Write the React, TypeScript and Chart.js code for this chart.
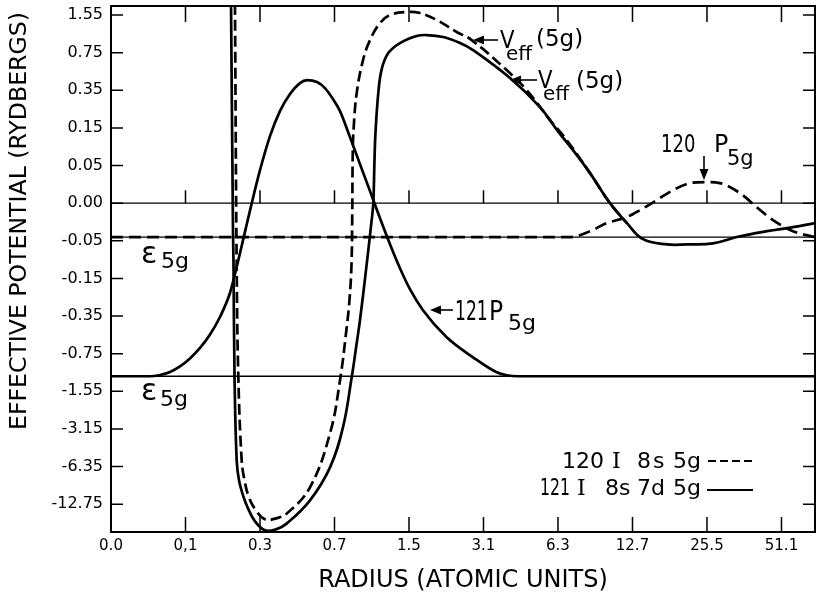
import React, { useEffect, useRef } from 'react';
import { Chart, registerables } from 'chart.js';

Chart.register(...registerables);

// Axis tick labels (ticks are evenly spaced: one axis step per label)
const xTickLabels = ['0.0', '0,1', '0.3', '0.7', '1.5', '3.1', '6.3', '12.7', '25.5', '51.1'];
// y steps -8 .. 5
const yTickLabels = ['-12.75', '-6.35', '-3.15', '-1.55', '-0.75', '-0.35', '-0.15', '-0.05', '0.00', '0.05', '0.15', '0.35', '0.75', '1.55'];
const yFirstStep = -8;

const xTitle = 'RADIUS (ATOMIC UNITS)';
const yTitle = 'EFFECTIVE POTENTIAL (RYDBERGS)';

// Axis extent in axis-step units
const xMin = 0;
const xMax = 9.45;
const yMin = -8.74;
const yMax = 5.24;

// Energy levels (baselines), in axis-step units
const zeroLevel = 0;
const eps120 = -0.904;
const eps121 = -4.601;

// V_eff(5g) for 121 (solid)
const vEff121X = [1.611, 1.638, 1.644, 1.658, 1.687, 1.718, 1.772, 1.839, 1.933, 2.067, 2.215, 2.362, 2.671, 2.94, 3.114, 3.231, 3.298, 3.342, 3.423, 3.499, 3.521, 3.537, 3.550, 3.588, 3.634, 3.722, 3.879, 4.103, 4.238, 4.46, 4.685, 4.859, 5.356, 5.758, 5.987, 6.201, 6.43, 6.698, 6.926, 7.141, 7.463, 7.732, 8.081, 8.443, 8.805, 9.154, 9.45];
const vEff121Y = [5.3, -0.824, -1.516, -4.601, -6.835, -7.367, -7.766, -8.112, -8.457, -8.697, -8.670, -8.511, -7.899, -7.021, -5.957, -4.628, -3.723, -3.112, -1.782, -0.452, 0.0, 1.144, 1.862, 2.926, 3.564, 3.989, 4.255, 4.441, 4.468, 4.415, 4.255, 4.069, 3.324, 2.553, 1.941, 1.41, 0.798, 0.0, -0.532, -0.957, -1.096, -1.096, -1.07, -0.88, -0.745, -0.638, -0.532];

// V_eff(5g) for 120 (dashed)
const vEff120X = [1.664, 1.687, 1.709, 1.754, 1.792, 1.852, 1.946, 2.067, 2.215, 2.362, 2.671, 2.94, 3.074, 3.164, 3.201, 3.228, 3.238, 3.245, 3.258, 3.298, 3.383, 3.477, 3.611, 3.745, 3.969, 4.148, 4.372, 4.64, 4.842, 5.311, 5.58, 5.893, 6.117, 6.43, 6.698, 6.926];
const vEff120Y = [5.3, -1.702, -4.601, -6.835, -7.367, -7.819, -8.165, -8.404, -8.378, -8.245, -7.553, -6.117, -4.707, -3.298, -2.58, -1.649, -0.372, 1.33, 2.021, 2.926, 3.803, 4.335, 4.787, 5.0, 5.08, 5.053, 4.867, 4.548, 4.335, 3.537, 3.005, 2.207, 1.676, 0.798, 0.0, -0.532];

// 121 P5g radial function (solid), drawn on the eps121 baseline
const p121X = [0, 0.523, 0.658, 0.792, 0.926, 1.060, 1.195, 1.329, 1.463, 1.597, 1.664, 1.732, 1.826, 1.919, 2.0, 2.134, 2.268, 2.403, 2.537, 2.631, 2.765, 2.872, 2.98, 3.074, 3.208, 3.342, 3.477, 3.611, 3.745, 3.879, 4.013, 4.188, 4.506, 4.859, 5.177, 5.311, 5.463, 9.45];
const p121Y = [-4.601, -4.601, -4.566, -4.486, -4.340, -4.128, -3.849, -3.490, -3.025, -2.387, -1.882, -1.324, -0.527, 0.244, 0.878, 1.782, 2.447, 2.899, 3.191, 3.271, 3.218, 3.059, 2.766, 2.447, 1.755, 1.037, 0.319, -0.399, -1.09, -1.729, -2.287, -2.846, -3.564, -4.096, -4.495, -4.574, -4.601, -4.601];

// 120 P5g radial function (dashed), drawn on the eps120 baseline
const p120X = [0, 6.161, 6.43, 6.654, 6.922, 7.101, 7.325, 7.544, 7.772, 7.973, 8.174, 8.443, 8.667, 8.886, 9.154, 9.45];
const p120Y = [-0.904, -0.904, -0.745, -0.532, -0.372, -0.186, 0.08, 0.346, 0.532, 0.559, 0.532, 0.266, -0.106, -0.452, -0.745, -0.904];

const FONT = "'DejaVu Sans'";
const SERIF = "'DejaVu Serif'";

const pts = (xs: number[], ys: number[]) => xs.map((x, i) => ({ x, y: ys[i] }));
const level = (v: number) => [{ x: xMin, y: v }, { x: xMax, y: v }];

function txt(ctx: CanvasRenderingContext2D, s: string, x: number, y: number, size: number, sx = 1, family = FONT) {
  ctx.save();
  ctx.font = `${size}px ${family}`;
  ctx.textAlign = 'left';
  ctx.textBaseline = 'alphabetic';
  ctx.fillStyle = '#000';
  ctx.translate(x, y);
  ctx.scale(sx, 1);
  ctx.fillText(s, 0, 0);
  ctx.restore();
}

function arrow(ctx: CanvasRenderingContext2D, x1: number, y1: number, x2: number, y2: number) {
  const a = Math.atan2(y2 - y1, x2 - x1);
  const L = 11, W = 4.5;
  const c = Math.cos(a), s = Math.sin(a);
  ctx.save();
  ctx.strokeStyle = '#000';
  ctx.fillStyle = '#000';
  ctx.lineWidth = 1.6;
  ctx.setLineDash([]);
  ctx.beginPath();
  ctx.moveTo(x1, y1);
  ctx.lineTo(x2 - L * c * 0.6, y2 - L * s * 0.6);
  ctx.stroke();
  ctx.beginPath();
  ctx.moveTo(x2, y2);
  ctx.lineTo(x2 - L * c + W * s, y2 - L * s - W * c);
  ctx.lineTo(x2 - L * c - W * s, y2 - L * s + W * c);
  ctx.closePath();
  ctx.fill();
  ctx.restore();
}

const decor = {
  id: 'decor',
  afterDatasetsDraw(chart: any) {
    const { ctx, chartArea: a, scales } = chart;
    const xs = scales.x, ys = scales.y;
    ctx.save();
    ctx.strokeStyle = '#000';
    ctx.setLineDash([]);
    ctx.lineWidth = 2;
    ctx.strokeRect(a.left, a.top, a.right - a.left, a.bottom - a.top);

    // inward tick marks
    ctx.lineWidth = 1.5;
    const y0 = ys.getPixelForValue(zeroLevel);
    ctx.beginPath();
    xs.ticks.forEach((t: any) => {
      if (t.value === xMin) return;
      const px = xs.getPixelForValue(t.value);
      ctx.moveTo(px, a.bottom); ctx.lineTo(px, a.bottom - 15);
      ctx.moveTo(px, a.top); ctx.lineTo(px, a.top + 16);
      ctx.moveTo(px, y0); ctx.lineTo(px, y0 - 13);
    });
    ys.ticks.forEach((t: any) => {
      const py = ys.getPixelForValue(t.value);
      ctx.moveTo(a.left, py); ctx.lineTo(a.left + 12, py);
      ctx.moveTo(a.right, py); ctx.lineTo(a.right - 12, py);
    });
    ctx.stroke();

    // y axis title (rotated)
    ctx.save();
    ctx.translate(20, 430);
    ctx.rotate(-Math.PI / 2);
    ctx.font = `23.6px ${FONT}`;
    ctx.fillStyle = '#000';
    ctx.textAlign = 'left';
    ctx.textBaseline = 'middle';
    ctx.fillText(yTitle, 0, 0);
    ctx.restore();

    // epsilon labels
    txt(ctx, 'ε', 141, 263, 30);
    txt(ctx, '5g', 161, 268, 22);
    txt(ctx, 'ε', 141, 400, 30);
    txt(ctx, '5g', 160, 406, 22);

    // V_eff labels
    txt(ctx, 'V', 500, 48, 25, 0.85);
    txt(ctx, 'eff', 506, 60, 20);
    txt(ctx, '(5g)', 536, 46, 23);
    arrow(ctx, 498, 40, 473, 40);

    txt(ctx, 'V', 538, 88, 25, 0.85);
    txt(ctx, 'eff', 543, 100, 20);
    txt(ctx, '(5g)', 576, 88, 23);
    arrow(ctx, 537, 80, 510, 80);

    // 120 P5g
    txt(ctx, '120', 661, 152, 25, 0.72);
    txt(ctx, 'P', 714, 152, 25, 0.95);
    txt(ctx, '5g', 727, 165, 21);
    arrow(ctx, 704, 156, 704, 180);

    // 121 P5g
    txt(ctx, '121', 455, 320, 26, 0.66);
    txt(ctx, 'P', 489, 320, 26, 0.9);
    txt(ctx, '5g', 508, 330, 22);
    arrow(ctx, 453, 310, 430, 310);

    // key
    txt(ctx, '120', 562, 468, 22);
    txt(ctx, 'I', 612, 468, 22, 1, SERIF);
    txt(ctx, '8', 637, 468, 22);
    txt(ctx, 's', 653, 468, 22);
    txt(ctx, '5g', 673, 468, 22);
    ctx.lineWidth = 2.2;
    ctx.setLineDash([8, 4]);
    ctx.beginPath(); ctx.moveTo(708, 461); ctx.lineTo(753, 461); ctx.stroke();

    txt(ctx, '121', 540, 495, 23, 0.68);
    txt(ctx, 'I', 577, 495, 22, 1, SERIF);
    txt(ctx, '8s', 605, 495, 22);
    txt(ctx, '7d', 637, 495, 22);
    txt(ctx, '5g', 673, 495, 22);
    ctx.setLineDash([]);
    ctx.beginPath(); ctx.moveTo(707, 490); ctx.lineTo(753, 490); ctx.stroke();
    ctx.restore();
  },
};

export default function App() {
  const ref = useRef<HTMLCanvasElement>(null);
  useEffect(() => {
    const curve = (data: any, dash: number[], smooth: 'tension' | 'monotone') => ({
      data,
      borderColor: '#000',
      borderWidth: 2.7,
      borderDash: dash,
      pointRadius: 0,
      pointHoverRadius: 0,
      fill: false,
      ...(smooth === 'monotone' ? { cubicInterpolationMode: 'monotone' } : { tension: 0.4 }),
    });
    const flat = (v: number) => ({
      data: level(v),
      borderColor: '#000',
      borderWidth: 1.3,
      pointRadius: 0,
      pointHoverRadius: 0,
      fill: false,
    });
    const chart = new Chart(ref.current as HTMLCanvasElement, {
      type: 'line',
      data: {
        datasets: [
          curve(pts(vEff121X, vEff121Y), [], 'tension'),
          curve(pts(vEff120X, vEff120Y), [11, 5], 'tension'),
          curve(pts(p121X, p121Y), [], 'monotone'),
          curve(pts(p120X, p120Y), [12, 6], 'monotone'),
          flat(zeroLevel),
          flat(eps120),
          flat(eps121),
        ] as any,
      },
      options: {
        responsive: false,
        animation: false,
        devicePixelRatio: 1,
        events: [],
        layout: { padding: { top: 6, right: 2, left: 0, bottom: 0 } },
        plugins: { legend: { display: false }, tooltip: { enabled: false } },
        scales: {
          x: {
            type: 'linear',
            min: xMin,
            max: xMax,
            grid: { display: false, drawTicks: false },
            border: { display: false },
            afterFit: (s: any) => { s.height = 64; s.paddingLeft = 0; s.paddingRight = 0; },
            afterBuildTicks: (s: any) => { s.ticks = xTickLabels.map((_, i) => ({ value: i })); },
            ticks: {
              autoSkip: false,
              maxRotation: 0,
              padding: 5,
              color: '#000',
              font: { family: FONT, size: 15 },
              callback: (_v: any, i: number) => xTickLabels[i],
            },
            title: {
              display: true,
              text: xTitle,
              color: '#000',
              font: { family: FONT, size: 24 },
              padding: { top: 0, bottom: 1 },
            },
          },
          y: {
            type: 'linear',
            min: yMin,
            max: yMax,
            grid: { display: false, drawTicks: false },
            border: { display: false },
            afterFit: (s: any) => { s.width = 111; s.paddingTop = 0; s.paddingBottom = 0; },
            afterBuildTicks: (s: any) => { s.ticks = yTickLabels.map((_, i) => ({ value: yFirstStep + i })); },
            ticks: {
              autoSkip: false,
              padding: 8,
              color: '#000',
              font: { family: FONT, size: 16 },
              callback: (_v: any, i: number) => yTickLabels[i],
            },
            title: { display: false },
          },
        },
      } as any,
      plugins: [decor],
    });
    return () => chart.destroy();
  }, []);
  return (
    <div style={{ position: 'fixed', left: 0, top: 0, width: 817, height: 596, background: '#fff' }}>
      <canvas ref={ref} width={817} height={596} style={{ display: 'block' }} />
    </div>
  );
}
